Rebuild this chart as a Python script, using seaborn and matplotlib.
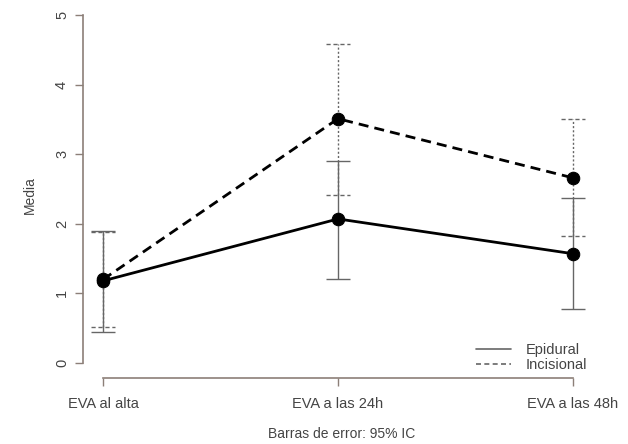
import numpy as np
import pandas as pd
import matplotlib.pyplot as plt
from matplotlib.lines import Line2D
import seaborn as sns

# valores (medias e IC 95%)
momentos = ['EVA al alta', 'EVA a las 24h', 'EVA a las 48h']
grupos = ['Epidural', 'Incisional']
media_epidural = [1.18, 2.07, 1.57]
ic_inf_epidural = [0.45, 1.21, 0.77]
ic_sup_epidural = [1.90, 2.90, 2.37]
media_incisional = [1.20, 3.51, 2.66]
ic_inf_incisional = [0.52, 2.42, 1.83]
ic_sup_incisional = [1.88, 4.58, 3.51]

sns.set_style("white")
plt.rcParams['font.family'] = ['Liberation Sans', 'DejaVu Sans']

eje = '#8c7f78'
texto = '#444444'

df = pd.DataFrame({
    'momento': momentos * 2,
    'pos': list(range(len(momentos))) * 2,
    'media': media_epidural + media_incisional,
    'grupo': ['Epidural'] * 3 + ['Incisional'] * 3,
})

fig = plt.figure(figsize=(6.28, 4.44), dpi=100)
ax = fig.add_axes([83 / 628, 1 - 378 / 444, (600 - 83) / 628, (378 - 12) / 444])

# barras de error
pos = np.arange(len(momentos))
cap = 0.05
ax.vlines(pos, ic_inf_incisional, ic_sup_incisional, colors='#666666', linestyles=(0, (1.5, 1.5)), lw=1, zorder=2)
ax.hlines(ic_inf_incisional + ic_sup_incisional, np.r_[pos, pos] - cap, np.r_[pos, pos] + cap,
          colors='#666666', linestyles=(0, (3, 2)), lw=1, zorder=2)
ax.vlines(pos, ic_inf_epidural, ic_sup_epidural, colors='#666666', lw=1, zorder=2)
ax.hlines(ic_inf_epidural + ic_sup_epidural, np.r_[pos, pos] - cap, np.r_[pos, pos] + cap,
          colors='#666666', lw=1, zorder=2)

sns.lineplot(data=df, x='pos', y='media', style='grupo',
             dashes={'Epidural': '', 'Incisional': (3.6, 2.2)},
             markers={'Epidural': 'o', 'Incisional': 'o'},
             color='black', markersize=9, markeredgecolor='black',
             lw=2, legend=False, ax=ax, zorder=3)

ax.set_xlim(-20 / 235, 2 + 27 / 235)
ax.set_ylim(-15 / 69.6, 5 + 3 / 69.6)
ax.set_xticks(pos)
ax.set_xticklabels(momentos)
ax.set_yticks(range(6))
ax.set_yticklabels([str(i) for i in range(6)], rotation=90, va='center')

for s in ['top', 'right']:
    ax.spines[s].set_visible(False)
ax.spines['left'].set_bounds(0, 5)
ax.spines['bottom'].set_bounds(0, 2)
for s in ['left', 'bottom']:
    ax.spines[s].set_color(eje)
    ax.spines[s].set_linewidth(1.2)
ax.tick_params(axis='both', direction='out', length=6, width=1, color=eje,
               labelcolor=texto, labelsize=10.5, left=True, bottom=True)
ax.tick_params(axis='y', pad=4)
ax.tick_params(axis='x', pad=8)

ax.set_ylabel('Media', color=texto, fontsize=10, labelpad=13)
ax.set_xlabel('Barras de error: 95% IC', color=texto, fontsize=10, labelpad=11)

handles = [Line2D([], [], color='#666666', lw=1.2, ls='-'),
           Line2D([], [], color='#666666', lw=1.2, ls=(0, (3, 2)))]
leg = ax.legend(handles, grupos, loc='lower right', bbox_to_anchor=(1.0, -0.02),
                frameon=False, fontsize=10.5, handlelength=2.4, labelspacing=0.05,
                handletextpad=1.0)
for t in leg.get_texts():
    t.set_color(texto)

fig.savefig('out.png', dpi=100)
